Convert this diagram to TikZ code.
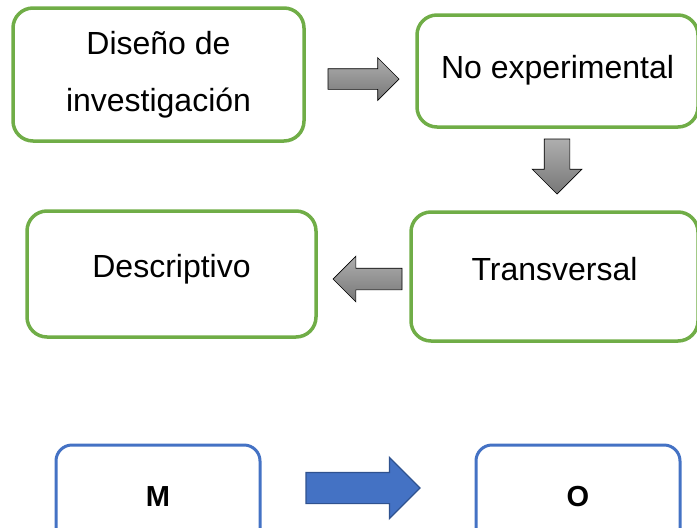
\documentclass[tikz,border=0pt]{standalone}
\usepackage{fontspec}
\setmainfont{Liberation Sans}
\usetikzlibrary{shapes.arrows}

\definecolor{boxgreen}{HTML}{70AD47}
\definecolor{boxblue}{HTML}{4472C4}
\definecolor{darkblue}{HTML}{2F528F}
\definecolor{arrowgray}{HTML}{8C8C8C}

\begin{document}
\begin{tikzpicture} [
						x=1pt, y=-1pt,
						every node/.style={font=\fontsize{32}{57}\selectfont},
						greenbox/.style={draw=boxgreen, line width=3.5pt, rounded corners=20pt, align=center, inner sep=0pt},
						bluebox/.style={draw=boxblue, line width=3pt, rounded corners=16pt, font=\fontsize{29}{34}\selectfont\bfseries, inner sep=0pt},
						grayarrow/.style={single arrow, draw=black, line width=0.7pt, top color=arrowgray!70!white, bottom color=arrowgray!85!black, outer sep=0pt, anchor=tail},
						bluearrow/.style={single arrow, draw=darkblue, line width=1.2pt, fill=boxblue, inner xsep=0pt, outer sep=0pt, anchor=tail}
					]

\useasboundingbox (0,0) rectangle (697,528);

% cajas del diseno
\node (dis) [greenbox, minimum width=291pt, minimum height=133pt] at (158.5,74.5) {Diseño de\\investigación};
\node (noexp) [greenbox, minimum width=281pt, minimum height=112pt, text depth=8pt] at (557.5,71) {No experimental};
\node (trans) [greenbox, minimum width=287pt, minimum height=129pt, text depth=15pt] at (554.5,276.5) {Transversal};
\node (desc) [greenbox, minimum width=289pt, minimum height=126pt, text depth=16pt] at (171.5,274) {Descriptivo};

% flechas
\node (a1) [grayarrow, inner xsep=0pt, inner ysep=10pt, single arrow head extend=11pt, minimum height=71pt] at (328,79) {};
\node (a2) [grayarrow, inner ysep=0pt, inner xsep=12.5pt, single arrow head extend=12pt, minimum height=55pt, shape border rotate=270] at (557,139) {};
\node (a3) [grayarrow, inner xsep=0pt, inner ysep=10.5pt, single arrow head extend=12pt, minimum height=69pt, shape border rotate=180] at (402,279) {};

% esquema
\node (m) [bluebox, minimum width=204pt, minimum height=104pt] at (158,497) {M};
\node (o) [bluebox, minimum width=204pt, minimum height=104pt] at (578,497) {O};
\node (a4) [bluearrow, inner ysep=15pt, single arrow head extend=15pt, minimum height=114pt] at (306,488) {};
\end{tikzpicture}
\end{document}
